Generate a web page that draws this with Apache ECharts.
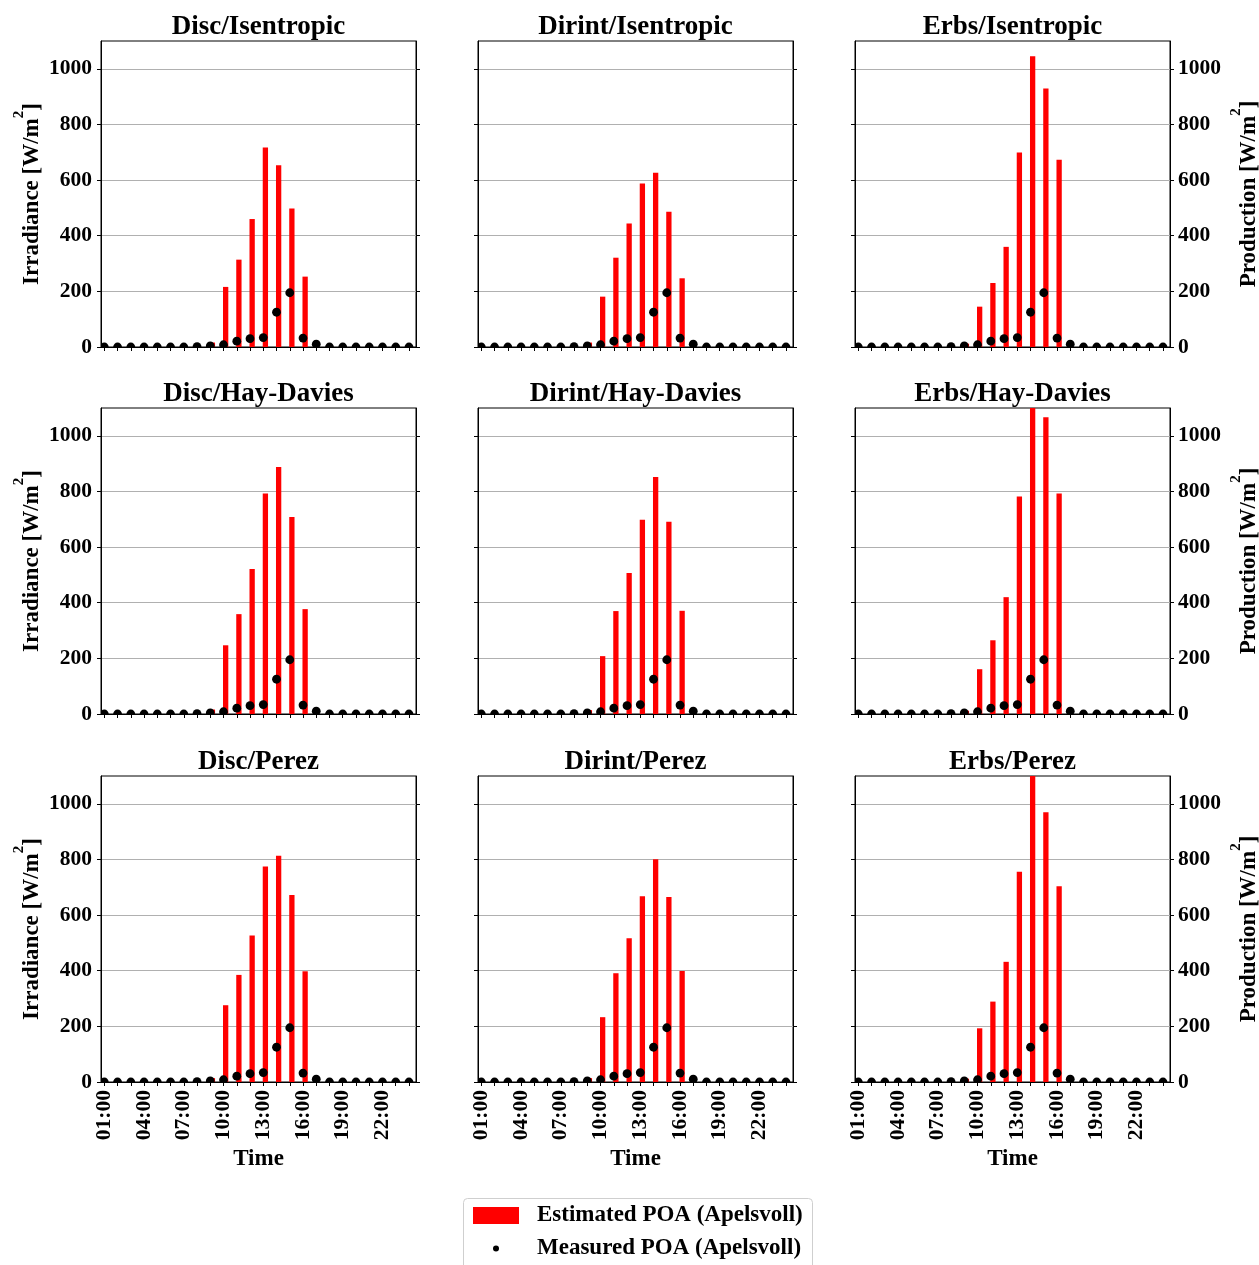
<!DOCTYPE html>
<html>
<head>
<meta charset="utf-8">
<script src="https://cdn.jsdelivr.net/npm/echarts@6/dist/echarts.min.js"></script>
<style>
  html, body { margin: 0; padding: 0; background: #ffffff; }
  #chart { width: 1259px; height: 1265px; }
</style>
</head>
<body>
<div id="chart"></div>
<script>
// Hours of the day (01:00 ... 24:00)
const hours = [1, 2, 3, 4, 5, 6, 7, 8, 9, 10, 11, 12, 13, 14, 15, 16, 17, 18, 19, 20, 21, 22, 23, 24];
const labelHours = [1, 4, 7, 10, 13, 16, 19, 22];
const yTicks = [0, 200, 400, 600, 800, 1000];

// Measured plane-of-array irradiance, W/m2
const measuredPOA = [0, 0, 0, 0, 0, 0, 0, 1, 4, 8, 21, 30, 34, 125, 195, 32, 10, 0, 0, 0, 0, 0, 0, 0];

// Estimated POA per decomposition / transposition model, W/m2
const discIsentropic   = [0, 0, 0, 0, 0, 0, 0, 0, 16, 216, 314, 460, 717, 653, 498, 253, 0, 0, 0, 0, 0, 0, 0, 0];
const dirintIsentropic = [0, 0, 0, 0, 0, 0, 0, 0, 16, 181, 321, 444, 588, 626, 486, 247, 0, 0, 0, 0, 0, 0, 0, 0];
const erbsIsentropic   = [0, 0, 0, 0, 0, 0, 0, 0, 12, 145, 230, 360, 699, 1045, 929, 673, 0, 0, 0, 0, 0, 0, 0, 0];
const discHayDavies    = [0, 0, 0, 0, 0, 0, 0, 0, 16, 247, 359, 521, 793, 888, 708, 377, 0, 0, 0, 0, 0, 0, 0, 0];
const dirintHayDavies  = [0, 0, 0, 0, 0, 0, 0, 0, 14, 208, 370, 507, 698, 852, 691, 371, 0, 0, 0, 0, 0, 0, 0, 0];
const erbsHayDavies    = [0, 0, 0, 0, 0, 0, 0, 0, 12, 161, 265, 420, 782, 1200, 1067, 793, 0, 0, 0, 0, 0, 0, 0, 0];
const discPerez        = [0, 0, 0, 0, 0, 0, 0, 0, 14, 276, 385, 527, 775, 813, 672, 398, 0, 0, 0, 0, 0, 0, 0, 0];
const dirintPerez      = [0, 0, 0, 0, 0, 0, 0, 0, 14, 233, 391, 517, 668, 801, 665, 399, 0, 0, 0, 0, 0, 0, 0, 0];
const erbsPerez        = [0, 0, 0, 0, 0, 0, 0, 0, 12, 193, 289, 432, 756, 1110, 970, 704, 0, 0, 0, 0, 0, 0, 0, 0];

const panelTitles = [
  'Disc/Isentropic', 'Dirint/Isentropic', 'Erbs/Isentropic',
  'Disc/Hay-Davies', 'Dirint/Hay-Davies', 'Erbs/Hay-Davies',
  'Disc/Perez', 'Dirint/Perez', 'Erbs/Perez'
];
const panelEstimates = [
  discIsentropic, dirintIsentropic, erbsIsentropic,
  discHayDavies, dirintHayDavies, erbsHayDavies,
  discPerez, dirintPerez, erbsPerez
];

const EST_NAME = 'Estimated POA (Apelsvoll)';
const MEAS_NAME = 'Measured POA (Apelsvoll)';
const FONT = "'Liberation Serif', 'Times New Roman', serif";

// Layout of the 3x3 panel grid
const colLeft = [101, 478, 855];
const rowTop = [41, 408, 776];
const PANEL_W = 315;
const PANEL_H = 306;

function hourLabel(v) {
  const h = Math.round(v);
  return (h < 10 ? '0' : '') + h + ':00';
}

// Narrow bar starting at the hour tick
function barItem(params, api) {
  const h = api.value(0);
  const v = api.value(1);
  if (!v) return null;
  const a = api.coord([h - 0.04, 0]);
  const b = api.coord([h + 0.36, v]);
  return {
    type: 'rect',
    shape: { x: a[0], y: b[1], width: b[0] - a[0], height: a[1] - b[1] },
    style: { fill: '#ff0000' }
  };
}

// Round marker, clipped by the panel frame
function dotItem(params, api) {
  const p = api.coord([api.value(0), api.value(1)]);
  return {
    type: 'circle',
    shape: { cx: p[0], cy: p[1], r: 4.4 },
    style: { fill: '#000000' }
  };
}

const tickText = { fontFamily: FONT, fontWeight: 'bold', fontSize: 21.5, color: '#000' };
const nameRich = {
  n: { fontFamily: FONT, fontWeight: 'bold', fontSize: 23, color: '#000', lineHeight: 32, verticalAlign: 'bottom' },
  s: { fontFamily: FONT, fontWeight: 'bold', fontSize: 15, color: '#000', lineHeight: 15, verticalAlign: 'top' }
};

const grids = [], xAxes = [], yAxes = [], series = [], titles = [];

panelTitles.forEach((title, i) => {
  const r = Math.floor(i / 3), c = i % 3;
  grids.push({
    left: colLeft[c], top: rowTop[r], width: PANEL_W, height: PANEL_H,
    outerBoundsMode: 'none', containLabel: false,
    show: true, borderColor: '#000', borderWidth: 1, backgroundColor: 'transparent'
  });
  titles.push({
    text: title,
    left: colLeft[c] + PANEL_W / 2,
    top: rowTop[r] - 27,
    textAlign: 'center',
    padding: 0,
    textStyle: { fontFamily: FONT, fontWeight: 'bold', fontSize: 27, color: '#000' }
  });
  xAxes.push({
    gridIndex: i, type: 'value', min: 0.75, max: 24.53,
    axisLine: { show: true, onZero: false, lineStyle: { color: '#000', width: 1 } },
    axisTick: { show: true, inside: false, length: 4, customValues: hours, lineStyle: { color: '#000' } },
    axisLabel: Object.assign({ show: r === 2, customValues: labelHours, rotate: 90, margin: 8, formatter: hourLabel }, tickText),
    splitLine: { show: false },
    name: r === 2 ? 'Time' : '',
    nameLocation: 'middle', nameGap: 66,
    nameTextStyle: { fontFamily: FONT, fontWeight: 'bold', fontSize: 23, color: '#000' }
  });
  yAxes.push({
    gridIndex: i, type: 'value', position: 'left', min: 0, max: 1100, interval: 200,
    axisLine: { show: true, lineStyle: { color: '#000', width: 1 } },
    axisTick: { show: true, inside: false, length: 4, customValues: yTicks, lineStyle: { color: '#000' } },
    axisLabel: Object.assign({ show: c === 0, customValues: yTicks, margin: 9, formatter: v => String(v) }, tickText),
    splitLine: { show: true, lineStyle: { color: '#b0b0b0', width: 1 } },
    name: c === 0 ? '{n|Irradiance [W/m}{s|2}{n|]}' : '',
    nameLocation: 'middle', nameRotate: 90, nameGap: 57,
    nameTextStyle: { rich: nameRich }
  });
  yAxes.push({
    gridIndex: i, type: 'value', position: 'right', min: 0, max: 1100, interval: 200,
    axisLine: { show: true, lineStyle: { color: '#000', width: 1 } },
    axisTick: { show: true, inside: false, length: 4, customValues: yTicks, lineStyle: { color: '#000' } },
    axisLabel: Object.assign({ show: c === 2, customValues: yTicks, margin: 8, formatter: v => String(v) }, tickText),
    splitLine: { show: false },
    name: c === 2 ? '{n|Production [W/m}{s|2}{n|]}' : '',
    nameLocation: 'middle', nameRotate: 90, nameGap: 59,
    nameTextStyle: { rich: nameRich }
  });
  const est = panelEstimates[i];
  series.push({
    type: 'custom', name: EST_NAME, xAxisIndex: i, yAxisIndex: 2 * i,
    clip: true, silent: true, renderItem: barItem,
    itemStyle: { color: '#ff0000' },
    encode: { x: 0, y: 1 },
    data: hours.map((h, k) => [h, est[k]])
  });
  series.push({
    type: 'custom', name: MEAS_NAME, xAxisIndex: i, yAxisIndex: 2 * i,
    clip: true, silent: true, renderItem: dotItem,
    itemStyle: { color: '#000000' },
    encode: { x: 0, y: 1 },
    data: hours.map((h, k) => [h, measuredPOA[k]])
  });
});

const legendText = { fontFamily: FONT, fontWeight: 'bold', fontSize: 23, color: '#000', padding: [0, 0, 0, 13] };

const option = {
  backgroundColor: '#ffffff',
  animation: false,
  title: titles,
  grid: grids,
  xAxis: xAxes,
  yAxis: yAxes,
  series: series,
  legend: [
    {
      data: [{ name: EST_NAME, icon: 'rect', itemStyle: { color: '#ff0000' } }],
      left: 473, top: 1204, orient: 'vertical', padding: 0,
      itemWidth: 46, itemHeight: 17, selectedMode: false, textStyle: legendText
    },
    {
      // the small marker sits centred in a 46px icon slot; the box is placed by the marker's left edge
      data: [{ name: MEAS_NAME, icon: 'circle', itemStyle: { color: '#000000' } }],
      left: 493, top: 1237, orient: 'vertical', padding: 0,
      itemWidth: 46, itemHeight: 6, selectedMode: false, textStyle: legendText
    }
  ],
  graphic: [
    {
      type: 'rect', left: 463, top: 1198, z: 0,
      shape: { width: 349, height: 90, r: 4 },
      style: { fill: '#ffffff', stroke: '#cfcfcf', lineWidth: 1 }
    }
  ]
};

const chart = echarts.init(document.getElementById('chart'), null, { renderer: 'canvas' });
chart.setOption(option);
</script>
</body>
</html>
